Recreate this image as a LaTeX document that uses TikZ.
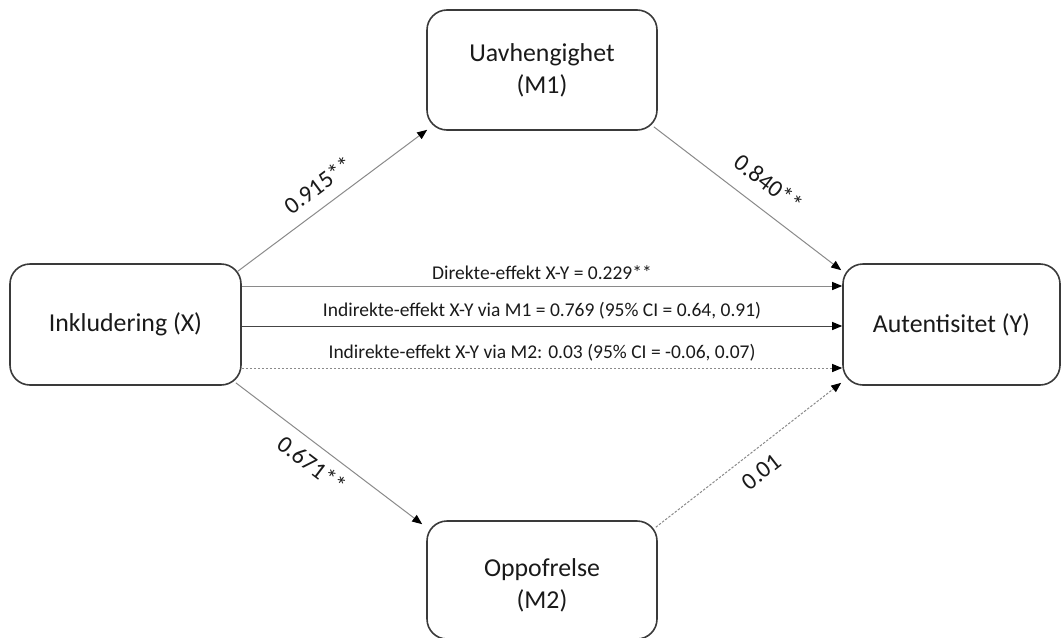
\documentclass[tikz,border=0pt]{standalone}
\usepackage{fontspec}
\setmainfont{Carlito}
\usetikzlibrary{arrows.meta}
\definecolor{boxc}{HTML}{3A3A3A}
\definecolor{lineg}{HTML}{8A8A8A}
\definecolor{lined}{HTML}{454545}
\definecolor{txt}{HTML}{1A1A1A}
\begin{document}
\begin{tikzpicture}[x=0.5pt,y=-0.5pt,
  box/.style={draw=boxc, line width=0.8pt, rounded corners=10pt, fill=white, align=center,
    font=\fontsize{12.9}{16}\selectfont, text=txt, inner sep=0pt},
  arr/.style={-{Triangle[length=5pt,width=4pt,color=black,fill=black]}, line width=0.5pt},
  grayline/.style={draw=lineg},
  darkline/.style={draw=lined},
  dotline/.style={dash pattern=on 1.2pt off 0.8pt},
  hlab/.style={font=\fontsize{9.75}{12}\selectfont, text=txt, inner sep=2pt},
  dlab/.style={font=\fontsize{12}{14}\selectfont, text=txt, inner sep=2pt, sloped}
]
\useasboundingbox (0,0) rectangle (1063,637);

\node[box, minimum width=115.5pt, minimum height=60.5pt] (X) at (125.5,324.5) {Inkludering (X)};
\node[box, minimum width=115pt, minimum height=60pt] (M1) at (542,70) {Uavhengighet\\(M1)};
\node[box, minimum width=115pt, minimum height=59pt] (M2) at (542,580) {\rule{0pt}{14pt}Oppofrelse\\(M2)};
\node[box, minimum width=108.5pt, minimum height=60.5pt] (Y) at (951.5,324.5) {Autentisitet (Y)};

% horizontal paths
\draw[arr, grayline] ([yshift=19.25pt]X.east) --
  node[hlab, above=1pt] {Direkte-effekt X-Y = 0.229**} ([yshift=19.25pt]Y.west);
\draw[arr, darkline] ([yshift=-0.75pt]X.east) --
  node[hlab, above=1pt] {Indirekte-effekt X-Y via M1 = 0.769 (95\% CI = 0.64, 0.91)} ([yshift=-0.75pt]Y.west);
\draw[arr, grayline, dotline] ([yshift=-21.75pt]X.east) --
  node[hlab, above=1pt] {Indirekte-effekt X-Y via M2: 0.03 (95\% CI = -0.06, 0.07)} ([yshift=-21.75pt]Y.west);

% diagonal paths
\draw[arr, grayline] ([shift={(-4,8)}]X.north east) --
  node[dlab, above=4pt, pos=0.49] {0.915**} ([shift={(1,-1)}]M1.south west);
\draw[arr, grayline] ([shift={(-4,-4)}]M1.south east) --
  node[dlab, above=6pt, pos=0.53] {0.840**} ([shift={(-1,7)}]Y.north west);
\draw[arr, grayline] ([shift={(-6,-3)}]X.south east) --
  node[dlab, below=3pt, pos=0.47] {0.671**} ([shift={(-4,4)}]M2.north west);
\draw[arr, grayline, dotline] ([shift={(-2,7)}]M2.north east) --
  node[dlab, below=4.5pt, pos=0.5] {0.01} ([shift={(-1,-3)}]Y.south west);
\end{tikzpicture}
\end{document}
